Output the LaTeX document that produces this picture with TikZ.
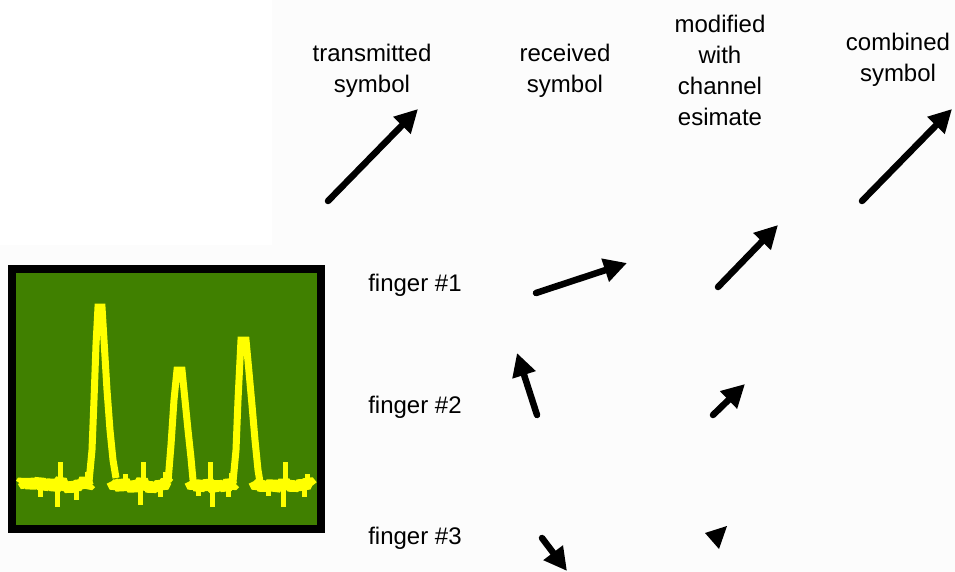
\documentclass[tikz,border=0pt]{standalone}
\usepackage{fontspec}
\setmainfont{Liberation Sans}
\usetikzlibrary{arrows.meta}

\definecolor{scopegreen}{RGB}{64,128,0}
\definecolor{trace}{RGB}{255,255,0}
\definecolor{paper}{RGB}{252,252,252}

\tikzset{
  label/.style={inner sep=0pt, align=center, font=\fontsize{24}{31}\selectfont},
  vec/.style={line width=6.5pt, line cap=round,
              -{Triangle[length=23pt,width=23pt]}},
  noise/.style={trace, line width=12pt, line join=bevel, line cap=butt},
  peak/.style={trace, line width=7pt, line join=miter, line cap=butt},
  spike/.style={trace, line width=5pt, line cap=butt},
}

\begin{document}
\begin{tikzpicture}[x=1pt,y=-1pt]
  % canvas
  \fill[paper] (0,0) rectangle (955,572);
  \fill[white] (0,0) rectangle (272,245);
  \useasboundingbox (0,0) rectangle (955,572);

  % oscilloscope-like screen with the multipath profile
  \node[draw=black, line width=8pt, fill=scopegreen, inner sep=0pt,
        minimum width=309pt, minimum height=260pt] (screen) at (166.5,399) {};

  % noisy floor between the peaks
  \draw[noise]
    (21,484)--(23,481)--(26,486)--(28,480)--(31,487)--(34,481)--(37,485)--(40,480)
    --(43,488)--(46,483)--(49,487)--(52,481)--(55,489)--(58,484)--(61,480)--(64,488)
    --(67,485)--(70,490)--(73,484)--(76,488)--(79,483)--(82,486)--(85,479)--(88,486)
    --(91,483);
  \draw[noise]
    (112,481)--(115,487)--(118,483)--(121,489)--(124,481)--(127,487)--(130,484)
    --(133,490)--(136,483)--(139,486)--(142,480)--(145,488)--(148,484)--(151,490)
    --(154,485)--(157,489)--(160,483)--(163,487)--(166,481)--(169,484);
  \draw[noise]
    (190,481)--(193,487)--(196,482)--(199,489)--(202,484)--(205,488)--(208,482)
    --(211,486)--(214,489)--(217,483)--(220,488)--(223,484)--(226,489)--(229,481)
    --(232,486)--(235,483);
  \draw[noise]
    (254,481)--(257,487)--(260,483)--(263,489)--(266,484)--(269,488)--(272,482)
    --(275,489)--(278,485)--(281,488)--(284,481)--(287,487)--(290,483)--(293,489)
    --(296,484)--(299,488)--(302,482)--(305,487)--(308,481)--(312,486);

  % spikes in the floor
  \draw[spike] (60,484) -- (60,462);
  \draw[spike] (57,484) -- (57,507);
  \draw[spike] (40,484) -- (40,497);
  \draw[spike] (76,484) -- (76,500);
  \draw[spike] (87,484) -- (87,472);
  \draw[spike] (143,484) -- (143,462);
  \draw[spike] (140,484) -- (140,505);
  \draw[spike] (125,484) -- (125,474);
  \draw[spike] (160,484) -- (160,497);
  \draw[spike] (165,484) -- (165,472);
  \draw[spike] (210,484) -- (210,462);
  \draw[spike] (212,484) -- (212,507);
  \draw[spike] (198,484) -- (198,496);
  \draw[spike] (228,484) -- (228,497);
  \draw[spike] (231,484) -- (231,473);
  \draw[spike] (285,484) -- (285,462);
  \draw[spike] (283,484) -- (283,507);
  \draw[spike] (268,484) -- (268,496);
  \draw[spike] (304,484) -- (304,497);
  \draw[spike] (307,484) -- (307,474);

  % the three path peaks
  \draw[peak] (89,482)--(92,450)--(94,400)--(96,345)--(98,307)--(102,307)
    --(104,340)--(107,390)--(110,430)--(113,460)--(116,478);
  \draw[peak] (168,482)--(171,445)--(174,400)--(177,370)--(182,370)--(185,400)
    --(188,430)--(191,458)--(193,480);
  \draw[peak] (233,482)--(236,450)--(238,400)--(241,340)--(246,340)--(249,372)
    --(252,405)--(255,440)--(258,470)--(260,482);

  % column headings
  \node[label] (hTx)  at (372,71)  {transmitted\\symbol};
  \node[label] (hRx)  at (565,71)  {received\\symbol};
  \node[label] (hMod) at (720,70)  {modified\\with\\channel\\esimate};
  \node[label] (hSum) at (898,60)  {combined\\symbol};

  % row labels
  \node[label] (f1) at (415,285) {finger \#1};
  \node[label] (f2) at (415,407) {finger \#2};
  \node[label] (f3) at (415,538) {finger \#3};

  % symbol vectors: tail and tip of each
  \coordinate (txA) at (328,201);  \coordinate (txB) at (418,109);
  \coordinate (smA) at (862,201);  \coordinate (smB) at (952,109);
  \coordinate (r1A) at (536,293);  \coordinate (r1B) at (627,263);
  \coordinate (m1A) at (718,287);  \coordinate (m1B) at (778,225);
  \coordinate (r2A) at (537,415);  \coordinate (r2B) at (517,353);
  \coordinate (m2A) at (713,415);  \coordinate (m2B) at (745,384);
  \coordinate (r3A) at (542,538);  \coordinate (r3B) at (567,571);

  \draw[vec] (txA) -- (txB);
  \draw[vec] (smA) -- (smB);
  \draw[vec] (r1A) -- (r1B);
  \draw[vec] (m1A) -- (m1B);
  \draw[vec] (r2A) -- (r2B);
  \draw[vec] (m2A) -- (m2B);
  \draw[vec] (r3A) -- (r3B);

  % finger #3 after weighting: only the head remains
  \coordinate (m3a) at (705,533);
  \coordinate (m3b) at (727,526);
  \coordinate (m3c) at (719,549);
  \fill (m3a) -- (m3b) -- (m3c) -- cycle;
\end{tikzpicture}
\end{document}
